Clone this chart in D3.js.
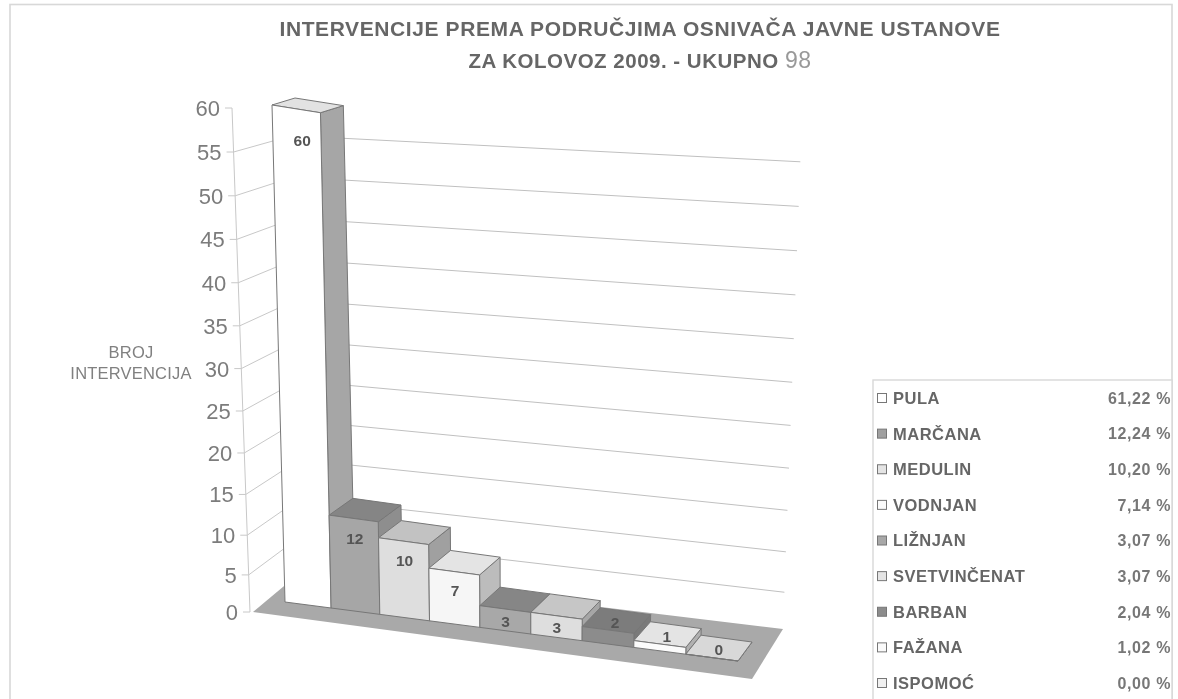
<!DOCTYPE html>
<html><head><meta charset="utf-8">
<script src="https://cdn.jsdelivr.net/npm/d3@7"></script>
<style>html,body{margin:0;padding:0;background:#fff}svg{display:block;filter:blur(.6px)}text{font-family:"Liberation Sans",Arial,sans-serif}</style>
</head><body><div id="c"></div>
<script>
const categories=["PULA","MARČANA","MEDULIN","VODNJAN","LIŽNJAN","SVETVINČENAT","BARBAN","FAŽANA","ISPOMOĆ"];
const counts=[60,12,10,7,3,3,2,1,0];
const shares=["61,22 %","12,24 %","10,20 %","7,14 %","3,07 %","3,07 %","2,04 %","1,02 %","0,00 %"];
const frontFill=["#ffffff","#a6a6a6","#dedede","#f6f6f6","#a8a8a8","#dedede","#8c8c8c","#fbfbfb","#d8d8d8"];
const topFill=["#e2e2e2","#858585","#c2c2c2","#e4e4e4","#868686","#c6c6c6","#7c7c7c","#e4e4e4","#d8d8d8"];
const sideFill=["#a6a6a6","#8e8e8e","#a0a0a0","#bcbcbc","#8e8e8e","#a6a6a6","#7a7a7a","#b0b0b0","#d8d8d8"];
const swatchFill=["#ffffff","#a0a0a0","#e4e4e4","#fafafa","#a8a8a8","#e4e4e4","#8c8c8c","#fafafa","#f0f0f0"];
const yTicks=d3.range(0,61,5);
const gridTicks=d3.range(5,56,5);

const W=1178,H=699;
const svg=d3.select("#c").append("svg").attr("width",W).attr("height",H);

// scales for the pseudo-3D box
const uScale=d3.scalePow().exponent(1.04).domain([0,categories.length]).range([0,1]);
const vScale=d3.scalePow().exponent(1.04).domain([0,60]).range([0,1]);
const mix=(a,b,t)=>[a[0]+(b[0]-a[0])*t,a[1]+(b[1]-a[1])*t];
const bilinear=(lb,rb,lt,rt,u,v)=>mix(mix(lb,rb,u),mix(lt,rt,u),v);
// bars' front and rear planes
const frontP=(i,val)=>bilinear([285,602],[738,661],[272,105],[748,181],uScale(i),vScale(val));
const rearP=(i,val)=>bilinear([310,583],[752,642],[295,98],[770,173],uScale(i),vScale(val));
// wall lines
const wScale=d3.scalePow().exponent(1.05).domain([0,60]).range([0,1]);
const axisP=v=>mix([250,612],[232,108],wScale(v));
const cornerP=v=>mix([302,571],[291,94],wScale(v));
const backRightP=v=>mix([783,630],[802,117],wScale(v));
const poly=pts=>pts.map(p=>p.join(",")).join(" ");

const g=svg.append("g");
// frame
g.append("rect").attr("x",10).attr("y",4.5).attr("width",1162).attr("height",720).attr("fill","#fff").attr("stroke","#d8d8d8").attr("stroke-width",1.6);

// title
const title=g.append("g").attr("font-weight","bold").attr("fill","#666").attr("text-anchor","middle");
title.append("text").attr("x",640).attr("y",36).attr("font-size",21).attr("letter-spacing",.6).text("INTERVENCIJE PREMA PODRUČJIMA OSNIVAČA JAVNE USTANOVE");
const t2=title.append("text").attr("x",640).attr("y",68).attr("font-size",20.5).attr("letter-spacing",.5).text("ZA KOLOVOZ 2009. - UKUPNO ");
t2.append("tspan").attr("font-weight","normal").attr("font-size",23).attr("fill","#999").text("98");

// walls
g.append("g").selectAll("line").data(gridTicks).join("line")
 .attr("x1",d=>axisP(d)[0]).attr("y1",d=>axisP(d)[1]).attr("x2",d=>cornerP(d)[0]).attr("y2",d=>cornerP(d)[1])
 .attr("stroke","#c8c8c8");
g.append("g").selectAll("line").data(gridTicks).join("line")
 .attr("x1",d=>cornerP(d)[0]).attr("y1",d=>cornerP(d)[1]).attr("x2",d=>backRightP(d)[0]).attr("y2",d=>backRightP(d)[1])
 .attr("stroke","#c0c0c0");

// axis
g.append("line").attr("x1",axisP(0)[0]).attr("y1",axisP(0)[1]).attr("x2",axisP(60)[0]).attr("y2",axisP(60)[1]).attr("stroke","#c8c8c8");
const ticks=g.append("g").selectAll("g").data(yTicks).join("g");
ticks.append("line").attr("x1",d=>axisP(d)[0]-7).attr("x2",d=>axisP(d)[0]).attr("y1",d=>axisP(d)[1]).attr("y2",d=>axisP(d)[1]).attr("stroke","#c8c8c8");
ticks.append("text").attr("x",d=>axisP(d)[0]-12).attr("y",d=>axisP(d)[1]).attr("dy","0.36em").attr("text-anchor","end").attr("font-size",22).attr("fill","#7c7c7c").text(d=>d);

// axis title
const yt=g.append("g").attr("fill","#808080").attr("font-size",16.5).attr("letter-spacing",.2).attr("text-anchor","middle");
yt.append("text").attr("x",131).attr("y",358).text("BROJ");
yt.append("text").attr("x",131).attr("y",379).text("INTERVENCIJA");

// floor
g.append("polygon").attr("points",poly([[253,612],[302,571],[783,629],[752,679]])).attr("fill","#a9a9a9");

// bars
const bars=g.append("g").selectAll("g").data(counts).join("g");
bars.append("polygon").attr("points",(d,i)=>poly([frontP(i+1,0),rearP(i+1,0),rearP(i+1,d),frontP(i+1,d)]))
 .attr("fill",(d,i)=>sideFill[i]).attr("stroke","#777").attr("stroke-width",1);
bars.append("polygon").attr("points",(d,i)=>poly([frontP(i,d),frontP(i+1,d),rearP(i+1,d),rearP(i,d)]))
 .attr("fill",(d,i)=>topFill[i]).attr("stroke","#777").attr("stroke-width",1);
bars.append("polygon").attr("points",(d,i)=>poly([frontP(i,0),frontP(i+1,0),frontP(i+1,d),frontP(i,d)]))
 .attr("fill",(d,i)=>frontFill[i]).attr("stroke","#777").attr("stroke-width",1);
bars.append("text").attr("text-anchor","middle").attr("font-weight","bold").attr("font-size",15.5).attr("fill","#555").attr("dy","0.36em")
 .attr("x",(d,i)=>(frontP(i,d)[0]+frontP(i+1,d)[0])/2+(d>=3?d/10:7))
 .attr("y",(d,i)=>(frontP(i,d)[1]+frontP(i+1,d)[1])/2+(d>=7?17+d*.25:d>=3?12:-8))
 .text(d=>d);

// legend
const lg=g.append("g");
lg.append("rect").attr("x",873).attr("y",380).attr("width",299).attr("height",330).attr("fill","#fff").attr("stroke","#d8d8d8").attr("stroke-width",1.4);
const rowY=d3.scalePoint().domain(categories).range([398,683]);
const rows=lg.selectAll("g").data(categories).join("g").attr("transform",d=>`translate(0,${rowY(d)})`);
rows.append("rect").attr("x",877.5).attr("y",-4.5).attr("width",9).attr("height",9).attr("fill",(d,i)=>swatchFill[i]).attr("stroke","#777");
rows.append("text").attr("x",893).attr("dy","0.36em").attr("font-weight","bold").attr("font-size",16.5).attr("letter-spacing",.5).attr("fill","#666").text(d=>d);
rows.append("text").attr("x",1171).attr("dy","0.36em").attr("text-anchor","end").attr("font-weight","bold").attr("font-size",16).attr("letter-spacing",.6).attr("fill","#777").text((d,i)=>shares[i]);
</script></body></html>
